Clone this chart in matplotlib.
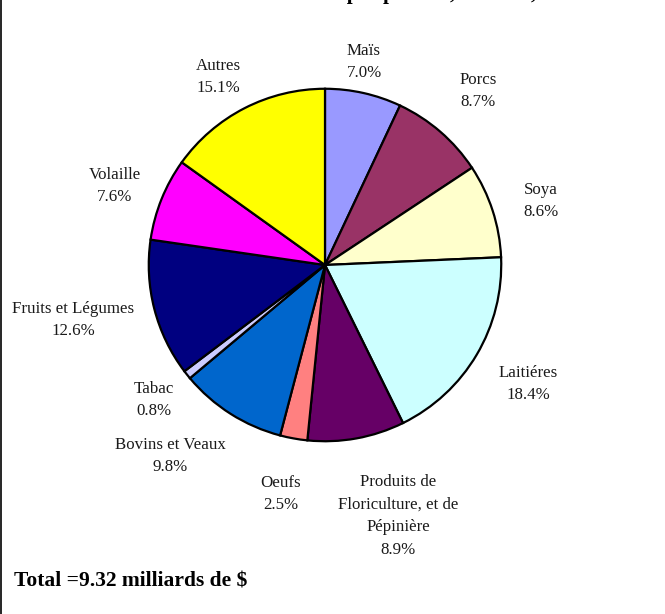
import matplotlib
matplotlib.use("Agg")
import matplotlib.pyplot as plt
from matplotlib.lines import Line2D

# données (part des recettes, %)
categories = ["Maïs", "Porcs", "Soya", "Laitiéres",
              "Produits de\nFloriculture, et de\nPépinière", "Oeufs",
              "Bovins et Veaux", "Tabac", "Fruits et Légumes", "Volaille", "Autres"]
shares = [7.0, 8.7, 8.6, 18.4, 8.9, 2.5, 9.8, 0.8, 12.6, 7.6, 15.1]
colors = ["#9999FF", "#993366", "#FFFFCC", "#CCFFFF", "#660066", "#FF8080",
          "#0066CC", "#CCCCFF", "#000080", "#FF00FF", "#FFFF00"]
total_text = "Total =9.32 milliards de $"
title_text = "Recettes monétaires par produit, Ontario, 2002"

# position des étiquettes (pixels, centre du bloc de texte)
label_px = [(364, 62), (478, 91), (541, 201), (528, 384), (398, 516),
            (281, 494), (170, 456), (154, 400), (73, 320), (115, 186), (218, 77)]

W, H = 665, 614
plt.rcParams["font.family"] = ["Liberation Serif", "DejaVu Serif"]

fig = plt.figure(figsize=(W / 100, H / 100), dpi=100)
fig.patch.set_facecolor("white")

cx, cy, r = 325, 265, 178
ax = fig.add_axes([(cx - r) / W, 1 - (cy + r) / H, 2 * r / W, 2 * r / H])
ax.pie(shares, colors=colors, startangle=90, counterclock=False,
       radius=1.0, wedgeprops=dict(edgecolor="black", linewidth=1.6))
ax.set_xlim(-1.01, 1.01)
ax.set_ylim(-1.01, 1.01)
ax.set_aspect("equal")
ax.axis("off")

for name, val, (px, py) in zip(categories, shares, label_px):
    fig.text(px / W, 1 - py / H, f"{name}\n{val:.1f}%", ha="center", va="center",
             fontsize=12.2, color="#1a1a1a", linespacing=1.55)

fig.text(14 / W, 1 - 582 / H, total_text, ha="left", va="center",
         fontsize=15.5, fontweight="bold", color="black")

# titre coupé en haut de l'image (comme dans l'original)
fig.text(373 / W, 1 + 1.5 / H, title_text, ha="center", va="baseline",
         fontsize=15, fontweight="bold", color="black")

# bordure gauche
fig.add_artist(Line2D([0.6 / W, 0.6 / W], [0, 1], color="black", linewidth=1.2))

fig.savefig("out.png", dpi=100)
